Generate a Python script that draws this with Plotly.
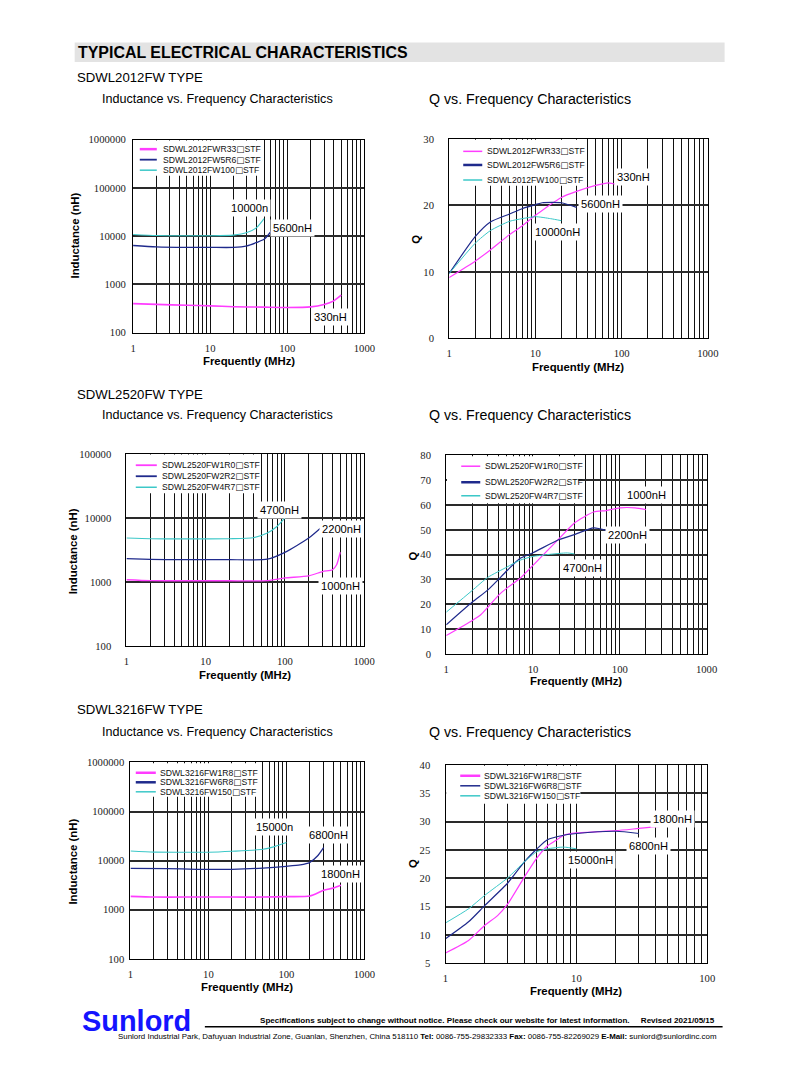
import plotly.graph_objects as go

W, H = 794, 1077
# the photographed page places figure point (x, y) at about (SX*x + OX, SY*y + OY);
# positions below are given in reference pixels and mapped back through that transform
SX, OX = 0.981, 11.4
SY, OY = 0.988, 12.6
FS = 1 / 0.985  # font compensation for the same shrink

# ---------------- data ----------------
# SDWL2012FW - inductance (nH) vs frequency (MHz)
l2012_r33_f = [1, 2, 5, 10, 20, 50, 100, 200, 300, 400, 500]
l2012_r33_v = [400, 385, 370, 360, 345, 338, 333, 343, 385, 457, 600]
l2012_5r6_f = [1, 2, 5, 10, 20, 30, 40, 50, 60, 70]
l2012_5r6_v = [6400, 6000, 5850, 5850, 5850, 6300, 7400, 8600, 11900, 17000]
l2012_100_f = [1, 2, 5, 10, 20, 30, 40, 50]
l2012_100_v = [10800, 10300, 10200, 10200, 10500, 11900, 15000, 23000]

# SDWL2012FW - Q vs frequency
q2012_r33_f = [1, 2, 3, 5, 7, 10, 20, 30, 50, 70, 90]
q2012_r33_v = [9.15, 11.6, 13.3, 15.6, 16.9, 18.5, 21.2, 22.1, 23.0, 23.4, 23.1]
q2012_5r6_f = [1, 2, 3, 5, 7, 10, 12, 20, 30]
q2012_5r6_v = [9.75, 15.3, 17.5, 18.7, 19.5, 20.1, 20.4, 20.4, 19.7]
q2012_100_f = [1, 2, 3, 5, 7, 10, 15, 20]
q2012_100_v = [9.75, 14.3, 16.2, 17.6, 18.0, 18.3, 18.0, 17.7]

# SDWL2520FW - inductance
l2520_1r0_f = [1, 2, 5, 10, 20, 60, 100, 200, 300, 400, 450, 500]
l2520_1r0_v = [1080, 1045, 1040, 1040, 1040, 1045, 1150, 1240, 1450, 1550, 1850, 2900]
l2520_2r2_f = [1, 2, 5, 10, 20, 60, 100, 200, 300]
l2520_2r2_v = [2300, 2250, 2220, 2220, 2220, 2260, 2890, 4840, 7400]
l2520_4r7_f = [1, 2, 5, 10, 20, 40, 60, 80, 100]
l2520_4r7_v = [4840, 4720, 4700, 4700, 4720, 4900, 5800, 7400, 10000]

# SDWL2520FW - Q
q2520_1r0_f = [1, 2, 2.5, 3, 4, 5, 7, 10, 20, 30, 50, 70, 100, 150, 200]
q2520_1r0_v = [7.4, 13.5, 15.8, 18.7, 23.6, 26.5, 30.3, 35.7, 46.5, 52.8, 57.2, 57.8, 58.9, 58.9, 58.2]
q2520_2r2_f = [1, 2, 3, 5, 7, 10, 20, 30, 50, 70]
q2520_2r2_v = [11.7, 20.9, 25.7, 33.5, 38.4, 40.8, 46.1, 48.1, 50.8, 49.8]
q2520_4r7_f = [1, 2, 3, 5, 7, 10, 20, 25, 30]
q2520_4r7_v = [16.8, 25.6, 30.8, 35.0, 37.7, 39.3, 40.5, 40.7, 40.3]

# SDWL3216FW - inductance
l3216_1r8_f = [1, 2, 5, 10, 20, 50, 100, 200, 300, 400, 500]
l3216_1r8_v = [1870, 1810, 1810, 1810, 1810, 1810, 1850, 1900, 2480, 2760, 3140]
l3216_6r8_f = [1, 3, 7, 20, 50, 100, 150, 200, 250, 300]
l3216_6r8_v = [6970, 6900, 6660, 6660, 7050, 7650, 8160, 9230, 12400, 18400]
l3216_150_f = [1, 2, 5, 10, 20, 50, 70, 100]
l3216_150_v = [15700, 14900, 14800, 14800, 15500, 17000, 19300, 23300]

# SDWL3216FW - Q
q3216_1r8_f = [1, 1.5, 2, 2.5, 3, 4, 5, 6, 7, 8, 10, 20, 30, 50]
q3216_1r8_v = [6.8, 9.0, 11.7, 13.4, 15.5, 20.2, 23.6, 25.7, 26.7, 27.6, 28.0, 28.4, 28.8, 29.3]
q3216_6r8_f = [1, 1.5, 2, 3, 4, 5, 6, 8, 10, 20, 30]
q3216_6r8_v = [9.3, 12.3, 15.2, 19.2, 22.9, 25.2, 26.8, 27.6, 27.9, 28.3, 27.9]
q3216_150_f = [1, 1.5, 2, 3, 4, 5, 6, 8, 10]
q3216_150_v = [12.1, 14.6, 17.0, 20.1, 22.9, 24.7, 25.2, 25.5, 25.2]

names_2012 = ["SDWL2012FWR33\u25a1STF", "SDWL2012FW5R6\u25a1STF", "SDWL2012FW100\u25a1STF"]
names_2520 = ["SDWL2520FW1R0\u25a1STF", "SDWL2520FW2R2\u25a1STF", "SDWL2520FW4R7\u25a1STF"]
names_3216 = ["SDWL3216FW1R8\u25a1STF", "SDWL3216FW6R8\u25a1STF", "SDWL3216FW150\u25a1STF"]

l_ticks_6 = [100, 1000, 10000, 100000, 1000000]
l_ticks_5 = [100, 1000, 10000, 100000]
q_ticks_30 = [0, 10, 20, 30]
q_ticks_80 = [0, 10, 20, 30, 40, 50, 60, 70, 80]
q_ticks_40 = [5, 10, 15, 20, 25, 30, 35, 40]

# ---------------- styling ----------------
COLORS = ["#ff3cff", "#1f2a8c", "#3cc8c8"]
SANS = "Arial, Liberation Sans, sans-serif"
SERIF = "Times New Roman, Liberation Serif, serif"


def px(x):
    return (x - OX) / SX / W


def py(y):
    return 1 - (y - OY) / SY / H


def fs(s):
    return round(s * FS, 2)


def box_glyph(name):
    # draw the hollow square with a font that has a full-size glyph for it
    return name.replace("\u25a1", '<span style="font-family:\'DejaVu Sans\'">\u25a1</span>')


def log_grid(decades):
    vals, txt = [], []
    for k in range(decades):
        for m in range(1, 10):
            vals.append(m * 10 ** k)
            txt.append(str(10 ** k) if m == 1 else "")
    vals.append(10 ** decades)
    txt.append(str(10 ** decades))
    return vals, txt


panels = [
    dict(box=(133.3, 364.3, 139.0, 331.7), dec=3, ylog=True, yt=l_ticks_6, yr=[2, 6], ys=4,
         series=[(l2012_r33_f, l2012_r33_v, 1.6), (l2012_5r6_f, l2012_5r6_v, 1.3), (l2012_100_f, l2012_100_v, 1.1)],
         names=names_2012),
    dict(box=(449.0, 707.3, 138.3, 337.3), dec=3, ylog=False, yt=q_ticks_30, yr=[0, 30], ys=12,
         series=[(q2012_r33_f, q2012_r33_v, 1.2), (q2012_5r6_f, q2012_5r6_v, 1.2), (q2012_100_f, q2012_100_v, 1.0)],
         names=names_2012),
    dict(box=(126.7, 364.0, 452.7, 644.3), dec=3, ylog=True, yt=l_ticks_5, yr=[2, 5], ys=12,
         series=[(l2520_1r0_f, l2520_1r0_v, 1.3), (l2520_2r2_f, l2520_2r2_v, 1.2), (l2520_4r7_f, l2520_4r7_v, 1.1)],
         names=names_2520),
    dict(box=(446.0, 706.0, 454.3, 652.3), dec=3, ylog=False, yt=q_ticks_80, yr=[0, 80], ys=12,
         series=[(q2520_1r0_f, q2520_1r0_v, 1.2), (q2520_2r2_f, q2520_2r2_v, 1.2), (q2520_4r7_f, q2520_4r7_v, 1.0)],
         names=names_2520),
    dict(box=(130.7, 364.3, 760.7, 956.7), dec=3, ylog=True, yt=l_ticks_6, yr=[2, 6], ys=3,
         series=[(l3216_1r8_f, l3216_1r8_v, 1.6), (l3216_6r8_f, l3216_6r8_v, 1.3), (l3216_150_f, l3216_150_v, 1.1)],
         names=names_3216),
    dict(box=(445.3, 706.7, 763.3, 961.0), dec=2, ylog=False, yt=q_ticks_40, yr=[5, 40], ys=12,
         series=[(q3216_1r8_f, q3216_1r8_v, 1.2), (q3216_6r8_f, q3216_6r8_v, 1.2), (q3216_150_f, q3216_150_v, 1.0)],
         names=names_3216),
]

fig = go.Figure()
layout = {}
for i, p in enumerate(panels):
    n = i + 1
    sfx = "" if n == 1 else str(n)
    x0, x1, yt, yb = p["box"]
    xv, xt = log_grid(p["dec"])
    layout["xaxis" + sfx] = dict(
        domain=[px(x0), px(x1)], anchor="y" + sfx, type="log", range=[0, p["dec"]],
        tickmode="array", tickvals=xv, ticktext=xt, ticks="", showgrid=True,
        gridcolor="#111111", gridwidth=1.3, showline=True, linecolor="#000000", linewidth=1.2,
        mirror=True, zeroline=False, tickfont=dict(family=SERIF, size=fs(10.5), color="#222222"),
        ticklabelstandoff=5,
    )
    yaxis = dict(
        domain=[py(yb), py(yt)], anchor="x" + sfx, tickmode="array", tickvals=p["yt"],
        ticktext=[str(v) for v in p["yt"]], ticks="", showgrid=True, gridcolor="#2a2a2a",
        gridwidth=1.5, showline=True, linecolor="#000000", linewidth=1.2, mirror=True,
        zeroline=False, tickfont=dict(family=SERIF, size=fs(10.5), color="#222222"),
        range=p["yr"], ticklabelstandoff=p["ys"],
    )
    if p["ylog"]:
        yaxis["type"] = "log"
    layout["yaxis" + sfx] = yaxis
    for (f, v, w), c, nm in zip(p["series"], COLORS, p["names"]):
        fig.add_trace(go.Scatter(
            x=f, y=v, mode="lines", name=nm, showlegend=False,
            line=dict(color=c, width=w, shape="spline", smoothing=0.6),
            xaxis="x" + sfx, yaxis="y" + sfx,
        ))

shapes = []
annotations = []

# header band
shapes.append(dict(type="rect", xref="paper", yref="paper", x0=px(75), x1=px(724), y0=py(61.5), y1=py(42),
                   fillcolor="#e3e3e3", line=dict(width=0), layer="below"))
annotations.append(dict(text="<b>TYPICAL ELECTRICAL CHARACTERISTICS</b>", x=px(76.5), y=py(52),
                        xref="paper", yref="paper", xanchor="left", yanchor="middle", showarrow=False,
                        font=dict(family=SANS, size=fs(15.7), color="#000000")))

# section and panel titles
for ysec, ytit, sec in [(77, 98, "SDWL2012FW TYPE"), (393, 414, "SDWL2520FW TYPE"), (708, 730, "SDWL3216FW TYPE")]:
    annotations.append(dict(text=sec, x=px(75), y=py(ysec), xref="paper", yref="paper", xanchor="left",
                            yanchor="middle", showarrow=False, font=dict(family=SANS, size=fs(13), color="#000000")))
    annotations.append(dict(text="Inductance vs. Frequency Characteristics", x=px(100), y=py(ytit), xref="paper",
                            yref="paper", xanchor="left", yanchor="middle", showarrow=False,
                            font=dict(family=SANS, size=fs(12.4), color="#000000")))
    annotations.append(dict(text="Q vs. Frequency Characteristics", x=px(427), y=py(ytit), xref="paper",
                            yref="paper", xanchor="left", yanchor="middle", showarrow=False,
                            font=dict(family=SANS, size=fs(14), color="#000000")))

# axis titles
xtitles = [(248.7, 360), (578, 366), (245.3, 673), (576, 679), (247.5, 985), (576, 989)]
ytitles = [(75, 235, "Inductance (nH)"), (415.7, 238, "Q"), (73.3, 550, "Inductance (nH)"),
           (413, 555, "Q"), (73, 860, "Inductance (nH)"), (413, 862, "Q")]
for (xx, yy) in xtitles:
    annotations.append(dict(text="<b>Frequently (MHz)</b>", x=px(xx), y=py(yy), xref="paper", yref="paper",
                            xanchor="center", yanchor="middle", showarrow=False,
                            font=dict(family=SANS, size=fs(11.2), color="#000000")))
for (xx, yy, t) in ytitles:
    annotations.append(dict(text="<b>%s</b>" % t, x=px(xx), y=py(yy), xref="paper", yref="paper",
                            xanchor="center", yanchor="middle", showarrow=False, textangle=-90,
                            font=dict(family=SANS, size=fs(11.2), color="#000000")))

# legends (drawn boxes)
legends = [
    dict(box=(134, 139.8, 262, 175), lx=(140, 157), tx=161, ys=[148.5, 159, 169.5], lw=[2.5, 1.8, 1.5], names=names_2012),
    dict(box=(449.8, 139, 583, 185), lx=(463, 482), tx=485, ys=[150.7, 164.3, 179.3], lw=[1.5, 2.5, 1.5], names=names_2012),
    dict(box=(127.5, 453.4, 258, 492), lx=(136, 157), tx=160, ys=[464, 475, 486], lw=[1.8, 1.8, 1.5], names=names_2520),
    dict(box=(446.8, 455, 578, 502), lx=(461, 480), tx=483, ys=[465, 481, 494.5], lw=[1.5, 2.5, 1.5], names=names_2520),
    dict(box=(131.5, 761.4, 257, 795), lx=(136, 156), tx=158, ys=[771, 780.5, 790], lw=[2.5, 2.5, 1.5], names=names_3216),
    dict(box=(446, 764, 580, 802), lx=(460, 480), tx=482, ys=[774, 784, 794], lw=[2.5, 1.5, 1.5], names=names_3216),
]
for lg in legends:
    bx0, by0, bx1, by1 = lg["box"]
    shapes.append(dict(type="rect", xref="paper", yref="paper", x0=px(bx0), x1=px(bx1), y0=py(by1), y1=py(by0),
                       fillcolor="#ffffff", line=dict(width=0), layer="above"))
    for yy, c, w, nm in zip(lg["ys"], COLORS, lg["lw"], lg["names"]):
        shapes.append(dict(type="line", xref="paper", yref="paper", x0=px(lg["lx"][0]), x1=px(lg["lx"][1]),
                           y0=py(yy), y1=py(yy), line=dict(color=c, width=w), layer="above"))
        annotations.append(dict(text=box_glyph(nm), x=px(lg["tx"]), y=py(yy), xref="paper", yref="paper",
                                xanchor="left", yanchor="middle", showarrow=False,
                                font=dict(family=SANS, size=fs(8.5), color="#111111")))

# curve labels
labels = [
    ("10000n", 250, 207.7), ("5600nH", 293, 227.7), ("330nH", 330, 315.7),
    ("330nH", 633, 176.7), ("5600nH", 600, 203.3), ("10000nH", 556.7, 231.7),
    ("4700nH", 280, 508.3), ("2200nH", 341.7, 527.3), ("1000nH", 340, 584.3),
    ("1000nH", 646, 493.3), ("2200nH", 626.7, 533.3), ("4700nH", 581.7, 566.7),
    ("15000n", 275, 825), ("6800nH", 328.3, 832.7), ("1800nH", 340, 872.3),
    ("1800nH", 672, 816.7), ("6800nH", 648.3, 844), ("15000nH", 590, 858.3),
]
for t, xx, yy in labels:
    annotations.append(dict(text=t, x=px(xx), y=py(yy), xref="paper", yref="paper", xanchor="center",
                            yanchor="middle", showarrow=False, bgcolor="#ffffff", borderpad=2,
                            font=dict(family=SANS, size=fs(11), color="#000000")))

# footer
annotations.append(dict(text="<b>Sunlord</b>", x=px(80), y=py(1018.5), xref="paper", yref="paper",
                        xanchor="left", yanchor="middle", showarrow=False,
                        font=dict(family=SANS, size=fs(28.5), color="#1414ff")))
shapes.append(dict(type="line", xref="paper", yref="paper", x0=px(205), x1=px(722), y0=py(1024.5), y1=py(1024.5),
                   line=dict(color="#000000", width=1.6)))
annotations.append(dict(
    text="<b>Specifications subject to change without notice. Please check our website for latest information.&nbsp;&nbsp;&nbsp;&nbsp;&nbsp;Revised 2021/05/15</b>",
    x=px(716), y=py(1018.5), xref="paper", yref="paper", xanchor="right", yanchor="middle", showarrow=False,
    font=dict(family=SANS, size=fs(7.95), color="#000000")))
annotations.append(dict(
    text="Sunlord Industrial Park, Dafuyuan Industrial Zone, Guanlan, Shenzhen, China 518110 <b>Tel:</b> 0086-755-29832333 <b>Fax:</b> 0086-755-82269029 <b>E-Mail:</b> sunlord@sunlordinc.com",
    x=px(718), y=py(1034.5), xref="paper", yref="paper", xanchor="right", yanchor="middle", showarrow=False,
    font=dict(family=SANS, size=fs(7.8), color="#000000")))

fig.update_layout(
    width=W, height=H, margin=dict(l=0, r=0, t=0, b=0), paper_bgcolor="#ffffff", plot_bgcolor="#ffffff",
    showlegend=False, shapes=shapes, annotations=annotations, **layout,
)

fig.write_html("out.html")
